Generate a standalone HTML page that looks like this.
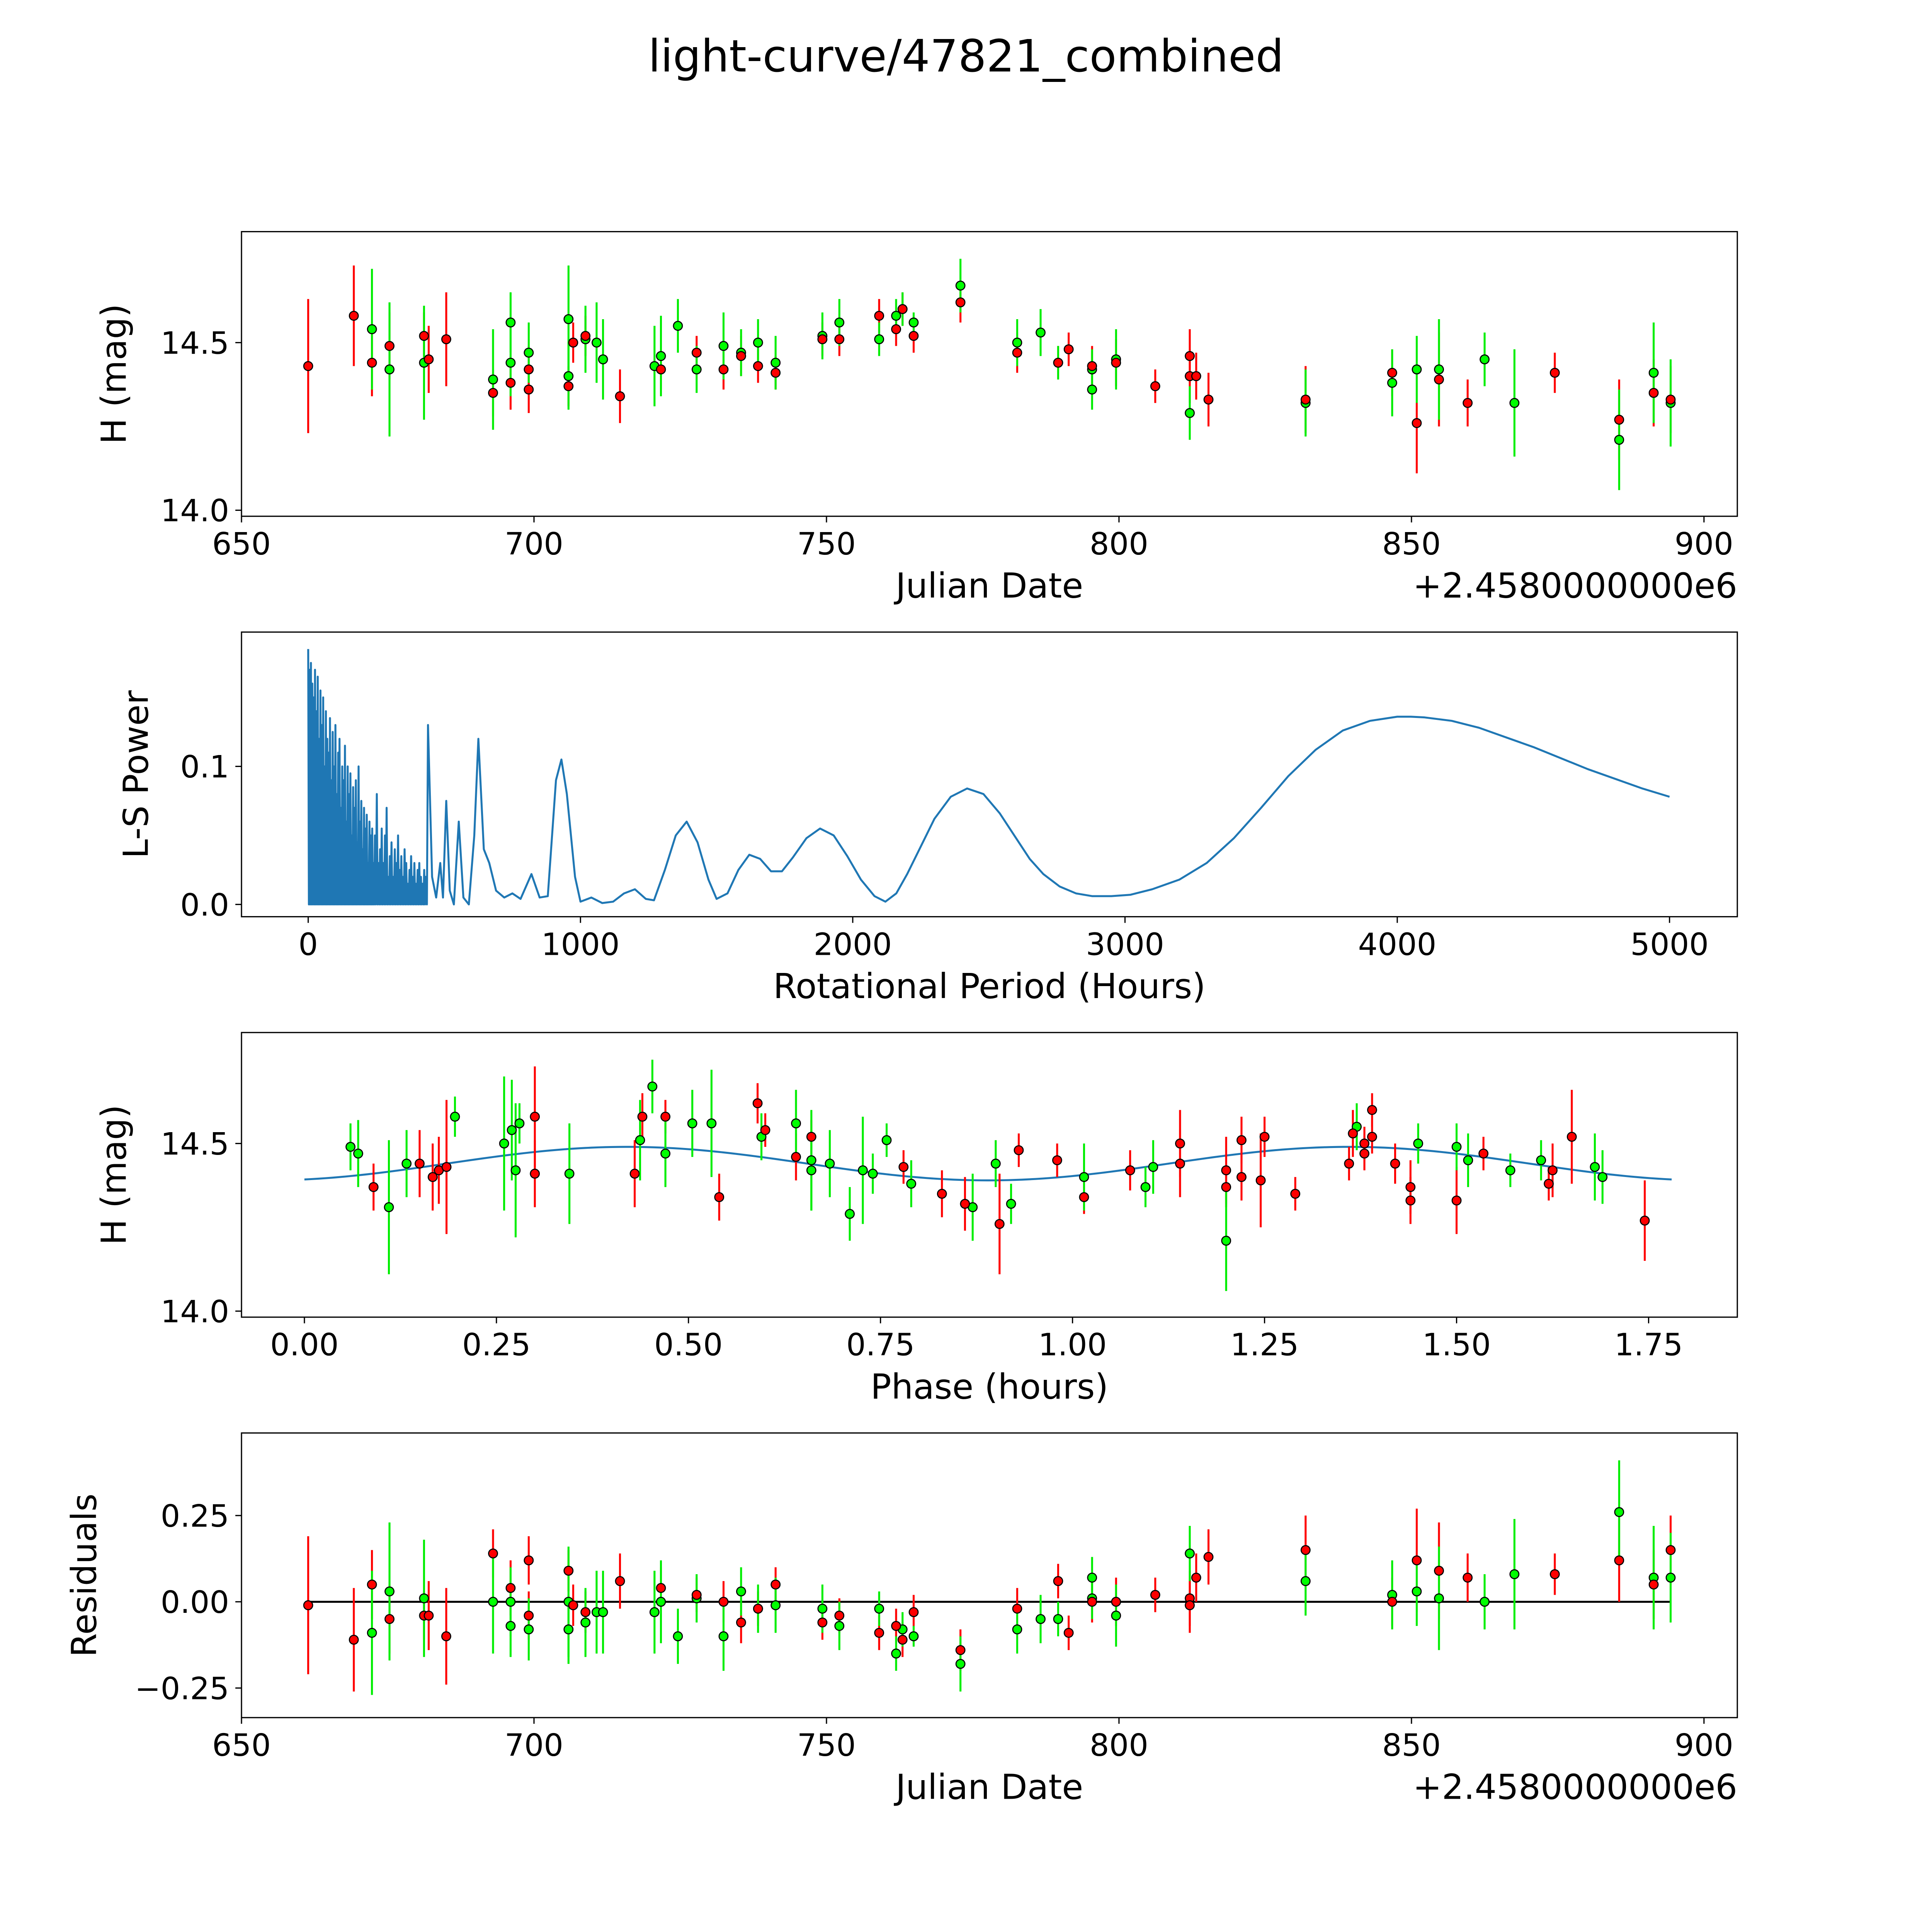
<!DOCTYPE html>
<html><head><meta charset="utf-8"><style>
html,body{margin:0;padding:0;background:#fff;overflow:hidden;width:100vw;height:100vh}
svg{display:block;width:100vw;height:100vh;font-family:"DejaVu Sans","Liberation Sans",sans-serif}
</style></head><body>
<svg id="fig" viewBox="0 0 1568 1568" preserveAspectRatio="none" xmlns="http://www.w3.org/2000/svg">
<rect width="1568" height="1568" fill="#fff"/>
<text x="784" y="58" font-size="36" text-anchor="middle">light-curve/47821_combined</text>
</svg>
<script>
// ---- Light curve data (Julian date offset, magnitude, error) ----
const redDates=[661.4,669.2,672.3,675.3,681.2,682,685,693,696,699.1,699.1,705.9,706.7,708.8,714.7,721.7,727.8,732.4,735.4,738.3,741.3,749.3,752.2,759,761.9,763,764.9,772.9,782.6,789.6,791.4,795.4,799.5,806.2,812.1,812.1,813.2,815.3,831.9,846.7,850.9,854.7,859.6,874.5,885.5,891.4,894.3];
const redMags=[14.43,14.58,14.44,14.49,14.52,14.45,14.51,14.35,14.38,14.42,14.36,14.37,14.5,14.52,14.34,14.42,14.47,14.42,14.46,14.43,14.41,14.51,14.51,14.58,14.54,14.6,14.52,14.62,14.47,14.44,14.48,14.43,14.44,14.37,14.46,14.4,14.4,14.33,14.33,14.41,14.26,14.39,14.32,14.41,14.27,14.35,14.33];
const redErrs=[0.2,0.15,0.1,0.1,0.07,0.1,0.14,0.07,0.08,0.07,0.07,0.06,0.06,0.06,0.08,0.06,0.05,0.06,0.06,0.05,0.05,0.05,0.05,0.05,0.05,0.05,0.05,0.06,0.06,0.05,0.05,0.06,0.07,0.05,0.08,0.08,0.07,0.08,0.1,0.07,0.15,0.14,0.07,0.06,0.12,0.1,0.1];
const redResid=[-0.01,-0.11,0.05,-0.05,-0.04,-0.04,-0.10,0.14,0.04,0.12,-0.04,0.09,-0.01,-0.03,0.06,0.04,0.02,0,-0.06,-0.02,0.05,-0.06,-0.04,-0.09,-0.07,-0.11,-0.03,-0.14,-0.02,0.06,-0.09,0,0,0.02,0.01,-0.01,0.07,0.13,0.15,0,0.12,0.09,0.07,0.08,0.12,0.05,0.15];
const greenDates=[672.3,675.3,681.2,693,696,696,699.1,705.9,705.9,708.8,710.7,711.8,720.6,721.7,724.6,727.8,732.4,735.4,738.3,741.3,749.3,752.2,759,761.9,763,764.9,772.9,782.6,786.6,789.6,795.4,795.4,799.5,812.1,831.9,846.7,850.9,854.7,862.5,867.6,885.5,891.4,894.3];
const greenMags=[14.54,14.42,14.44,14.39,14.56,14.44,14.47,14.57,14.4,14.51,14.5,14.45,14.43,14.46,14.55,14.42,14.49,14.47,14.5,14.44,14.52,14.56,14.51,14.58,14.6,14.56,14.67,14.5,14.53,14.44,14.42,14.36,14.45,14.29,14.32,14.38,14.42,14.42,14.45,14.32,14.21,14.41,14.32];
const greenErrs=[0.18,0.2,0.17,0.15,0.09,0.1,0.09,0.16,0.1,0.1,0.12,0.12,0.12,0.12,0.08,0.07,0.1,0.07,0.07,0.08,0.07,0.07,0.05,0.05,0.05,0.03,0.08,0.07,0.07,0.05,0.06,0.06,0.09,0.08,0.1,0.1,0.1,0.15,0.08,0.16,0.15,0.15,0.13];
const greenResid=[-0.09,0.03,0.01,0,-0.07,0,-0.08,0,-0.08,-0.06,-0.03,-0.03,-0.03,0,-0.1,0.01,-0.1,0.03,-0.02,-0.01,-0.02,-0.07,-0.02,-0.15,-0.08,-0.1,-0.18,-0.08,-0.05,-0.05,0.07,0.01,-0.04,0.14,0.06,0.02,0.03,0.01,0,0.08,0.26,0.07,0.07];
// ---- Phase-folded data ----
const redPhase=[0.09,0.15,0.167,0.175,0.185,0.30,0.30,0.43,0.44,0.47,0.54,0.59,0.60,0.64,0.66,0.78,0.83,0.86,0.905,0.93,0.98,1.015,1.075,1.14,1.14,1.2,1.2,1.22,1.22,1.245,1.25,1.29,1.36,1.365,1.38,1.38,1.39,1.39,1.42,1.44,1.44,1.5,1.535,1.62,1.625,1.65,1.745];
const redPhaseMag=[14.37,14.44,14.40,14.42,14.43,14.58,14.41,14.41,14.58,14.58,14.34,14.62,14.54,14.46,14.52,14.43,14.35,14.32,14.26,14.48,14.45,14.34,14.42,14.50,14.44,14.37,14.42,14.51,14.40,14.39,14.52,14.35,14.44,14.53,14.47,14.50,14.60,14.52,14.44,14.33,14.37,14.33,14.47,14.38,14.42,14.52,14.27];
const redPhaseErr=[0.07,0.1,0.1,0.1,0.2,0.15,0.1,0.1,0.07,0.05,0.07,0.06,0.05,0.07,0.05,0.05,0.07,0.08,0.15,0.05,0.05,0.05,0.06,0.1,0.1,0.06,0.1,0.07,0.07,0.14,0.06,0.05,0.05,0.07,0.05,0.05,0.05,0.05,0.06,0.07,0.08,0.1,0.05,0.05,0.08,0.14,0.12];
const greenPhase=[0.06,0.07,0.11,0.133,0.196,0.26,0.27,0.275,0.28,0.345,0.437,0.453,0.47,0.505,0.53,0.595,0.64,0.66,0.66,0.684,0.71,0.727,0.74,0.758,0.79,0.87,0.9,0.92,1.015,1.095,1.105,1.2,1.37,1.45,1.5,1.515,1.57,1.61,1.68,1.69];
const greenPhaseMag=[14.49,14.47,14.31,14.44,14.58,14.50,14.54,14.42,14.56,14.41,14.51,14.67,14.47,14.56,14.56,14.52,14.56,14.42,14.45,14.44,14.29,14.42,14.41,14.51,14.38,14.31,14.44,14.32,14.40,14.37,14.43,14.21,14.55,14.50,14.49,14.45,14.42,14.45,14.43,14.40];
const greenPhaseErr=[0.07,0.1,0.2,0.1,0.06,0.2,0.15,0.2,0.06,0.15,0.12,0.08,0.1,0.1,0.16,0.07,0.1,0.12,0.15,0.1,0.08,0.16,0.06,0.05,0.07,0.1,0.07,0.06,0.1,0.06,0.08,0.15,0.07,0.06,0.07,0.08,0.05,0.06,0.1,0.08];
// ---- Periodogram: spiky short-period region (peak positions & heights; valleys at 0) ----
const spikePeriods=[0,5,10,15,20,25,30,35,40,45,50,55,60,65,70,75,80,85,90,95,100,105,110,115,120,125,130,135,140,145,150,155,160,165,170,175,180,185,190,195,200,205,210,215,220,225,230,235,240,245,252,258,264,270,276,282,288,294,300,306,312,318,324,330,336,342,348,354,360,366,372,378,384,390,396,402,408,414,420,426,432];
const spikePowers=[0.185,0.17,0.175,0.16,0.15,0.17,0.14,0.165,0.12,0.155,0.13,0.15,0.1,0.14,0.12,0.11,0.135,0.09,0.125,0.1,0.13,0.08,0.11,0.12,0.07,0.1,0.09,0.115,0.06,0.1,0.08,0.095,0.05,0.085,0.07,0.09,0.045,0.1,0.06,0.075,0.04,0.07,0.055,0.065,0.03,0.06,0.05,0.055,0.03,0.05,0.08,0.03,0.04,0.055,0.03,0.05,0.07,0.02,0.035,0.045,0.02,0.04,0.03,0.05,0.025,0.035,0.02,0.04,0.03,0.015,0.025,0.035,0.02,0.03,0.015,0.025,0.03,0.02,0.015,0.025,0.02];
// ---- Periodogram: smooth long-period region ----
const lsPeriods=[440,455,470,485,495,507,520,535,553,570,590,610,625,645,665,690,720,750,780,820,850,880,910,930,950,980,1000,1040,1080,1120,1160,1200,1240,1270,1310,1350,1390,1430,1470,1500,1540,1580,1620,1660,1700,1740,1780,1830,1880,1930,1980,2030,2080,2120,2160,2200,2250,2300,2360,2420,2480,2540,2600,2650,2700,2760,2820,2880,2950,3020,3100,3200,3300,3400,3500,3600,3700,3800,3900,4000,4050,4100,4200,4300,4400,4500,4600,4700,4800,4900,5000];
const lsPowers=[0.13,0.02,0.005,0.03,0.005,0.075,0.01,0.0,0.06,0.005,0.0,0.05,0.12,0.04,0.03,0.01,0.005,0.008,0.004,0.022,0.005,0.006,0.09,0.105,0.08,0.02,0.002,0.005,0.001,0.002,0.008,0.011,0.004,0.003,0.025,0.05,0.06,0.045,0.018,0.004,0.008,0.025,0.036,0.033,0.024,0.024,0.034,0.048,0.055,0.05,0.035,0.018,0.006,0.002,0.008,0.022,0.042,0.062,0.078,0.084,0.08,0.066,0.048,0.033,0.022,0.013,0.008,0.006,0.006,0.007,0.011,0.018,0.03,0.048,0.07,0.093,0.112,0.126,0.133,0.136,0.136,0.1355,0.133,0.128,0.121,0.114,0.106,0.098,0.091,0.084,0.078];
// ---- Model curve parameters (fitted sine) ----
const modelMean=[14.44];
const modelAmp=[0.05];
const modelPeriod=[0.94];
const modelPeak=[0.42];

const svg=document.getElementById('fig');
const NS='http://www.w3.org/2000/svg';
function mk(tag,attrs,parent){const e=document.createElementNS(NS,tag);for(const k in attrs)e.setAttribute(k,attrs[k]);(parent||svg).appendChild(e);return e;}
function txt(s,attrs,parent){const e=mk('text',attrs,parent);e.textContent=s;return e;}

function axes(name,box,xr,yr,xt,yt,xfmt,yfmt,xlabel,ylabel,offset,ylOff){
  const g=mk('g',{});
  
  
  const sx=v=>box.l+(v-xr[0])/(xr[1]-xr[0])*(box.r-box.l);
  const sy=v=>box.b-(v-yr[0])/(yr[1]-yr[0])*(box.b-box.t);
  const clipId=name+'-clip';
  const cp=mk('clipPath',{id:clipId},g);mk('rect',{x:box.l,y:box.t,width:box.r-box.l,height:box.b-box.t},cp);
  const plot=mk('g',{'clip-path':'url(#'+clipId+')'},g);
  xt.forEach(v=>{const x=sx(v);mk('line',{x1:x,x2:x,y1:box.b,y2:box.b+5,stroke:'#000','stroke-width':1},g);
    const t=txt(xfmt(v),{x:x,y:box.b+31,'font-size':25,'text-anchor':'middle'},g);
    
    });
  yt.forEach(v=>{const y=sy(v);mk('line',{x1:box.l-5,x2:box.l,y1:y,y2:y,stroke:'#000','stroke-width':1},g);
    const t=txt(yfmt(v),{x:box.l-10,y:y+9,'font-size':25,'text-anchor':'end'},g);
    
    });
  const xl=txt(xlabel,{x:(box.l+box.r)/2,y:box.b+66,'font-size':28,'text-anchor':'middle'},g);
  
  
  const yl=txt(ylabel,{x:0,y:0,'font-size':28,'text-anchor':'middle',transform:`translate(${box.l-ylOff},${(box.t+box.b)/2}) rotate(-90)`},g);
  
  
  if(offset){const o=txt(offset,{x:box.r,y:box.b+66,'font-size':28,'text-anchor':'end'},g);
    
    }
  mk('rect',{x:box.l,y:box.t,width:box.r-box.l,height:box.b-box.t,fill:'none',stroke:'#000','stroke-width':1},g);
  return {sx,sy,plot,g};
}
function errPoints(ax,xs,ys,es,col,nm){
  xs.forEach((x,i)=>{const l=mk('line',{x1:ax.sx(x),x2:ax.sx(x),y1:ax.sy(ys[i]-es[i]),y2:ax.sy(ys[i]+es[i]),stroke:col,'stroke-width':1.6},ax.plot);
    
    });
}
function dots(ax,xs,ys,col,nm){
  xs.forEach((x,i)=>{const c=mk('circle',{cx:ax.sx(x),cy:ax.sy(ys[i]),r:3.6,fill:col,stroke:'#000','stroke-width':0.9},ax.plot);
    
    });
}
const f1=v=>v.toFixed(1), f0=v=>String(v), f2=v=>v.toFixed(2).replace('-','\u2212');
const jdT=[650,700,750,800,850,900];

// Panel 1
const a1=axes('light-curve-panel',{l:196,r:1410,t:188,b:419},[650,905.7],[13.982,14.831],jdT,[14.0,14.5],f0,f1,'Julian Date','H (mag)','+2.4580000000e6',94);
errPoints(a1,redDates,redMags,redErrs,'#ff0000','red-obs');
errPoints(a1,greenDates,greenMags,greenErrs,'#00ee00','green-obs');
dots(a1,greenDates,greenMags,'#00ff00','green-obs');
dots(a1,redDates,redMags,'#ff0000','red-obs');

// Panel 2
const a2=axes('periodogram-panel',{l:196,r:1410,t:513,b:744},[-245,5249],[-0.0089,0.1973],[0,1000,2000,3000,4000,5000],[0.0,0.1],f0,f1,'Rotational Period (Hours)','L-S Power',null,76);
let d='';
spikePeriods.forEach((p,i)=>{
  d+=(i?'L':'M')+a2.sx(p).toFixed(2)+' '+a2.sy(spikePowers[i]).toFixed(2);
  const next=(i+1<spikePeriods.length)?spikePeriods[i+1]:lsPeriods[0];
  d+='L'+a2.sx((p+next)/2).toFixed(2)+' '+a2.sy(0).toFixed(2);
});
lsPeriods.forEach((p,i)=>{d+='L'+a2.sx(p).toFixed(2)+' '+a2.sy(lsPowers[i]).toFixed(2);});
const ls=mk('path',{d:d,fill:'none',stroke:'#1f77b4','stroke-width':1.6,'stroke-linejoin':'round'},a2.plot);



// Panel 3
const a3=axes('phase-panel',{l:196,r:1410,t:838,b:1069},[-0.0819,1.8655],[13.982,14.831],[0,0.25,0.5,0.75,1.0,1.25,1.5,1.75],[14.0,14.5],f2,f1,'Phase (hours)','H (mag)',null,94);
let dm='';
for(let i=0;i<=200;i++){const ph=1.78*i/200;const m=modelMean[0]+modelAmp[0]*Math.cos(2*Math.PI*(ph-modelPeak[0])/modelPeriod[0]);dm+=(i?'L':'M')+a3.sx(ph).toFixed(2)+' '+a3.sy(m).toFixed(2);}
const mc=mk('path',{d:dm,fill:'none',stroke:'#1f77b4','stroke-width':1.6},a3.plot);


errPoints(a3,redPhase,redPhaseMag,redPhaseErr,'#ff0000','red-phase');
errPoints(a3,greenPhase,greenPhaseMag,greenPhaseErr,'#00ee00','green-phase');
dots(a3,greenPhase,greenPhaseMag,'#00ff00','green-phase');
dots(a3,redPhase,redPhaseMag,'#ff0000','red-phase');

// Panel 4
const a4=axes('residuals-panel',{l:196,r:1410,t:1163,b:1394},[650,905.7],[-0.3357,0.4893],jdT,[-0.25,0,0.25],f0,f2,'Julian Date','Residuals','+2.4580000000e6',118);
const zl=mk('line',{x1:a4.sx(661.4),x2:a4.sx(894.3),y1:a4.sy(0),y2:a4.sy(0),stroke:'#000','stroke-width':1.6},a4.plot);


errPoints(a4,redDates,redResid,redErrs,'#ff0000','red-resid');
errPoints(a4,greenDates,greenResid,greenErrs,'#00ee00','green-resid');
dots(a4,greenDates,greenResid,'#00ff00','green-resid');
dots(a4,redDates,redResid,'#ff0000','red-resid');
</script>
</body></html>
